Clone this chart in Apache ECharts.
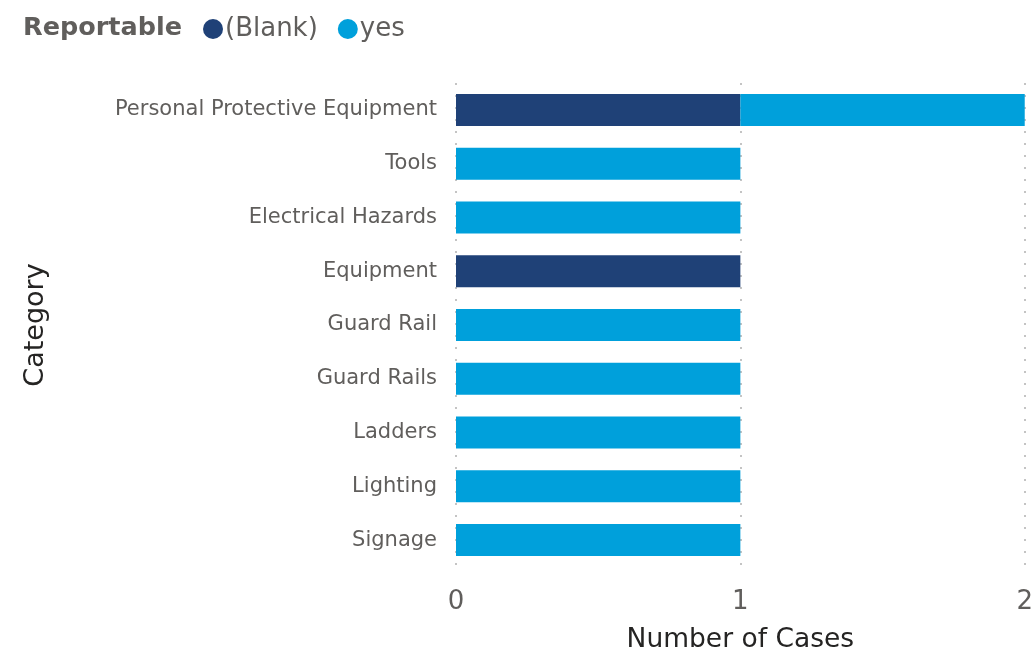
<!DOCTYPE html>
<html>
<head>
<meta charset="utf-8">
<script src="https://cdn.jsdelivr.net/npm/echarts@6/dist/echarts.min.js"></script>
<style>html,body{margin:0;padding:0;background:#fff}#c{width:1036px;height:660px}</style>
</head>
<body>
<div id="c"></div>
<script>
const categories = ["Personal Protective Equipment","Tools","Electrical Hazards","Equipment","Guard Rail","Guard Rails","Ladders","Lighting","Signage"];
const blankValues = [1,0,0,1,0,0,0,0,0];
const yesValues = [1,1,1,0,1,1,1,1,1];
const xTicks = [0,1,2];

const font = "DejaVu Sans, Verdana, sans-serif";
const chart = echarts.init(document.getElementById('c'));
chart.setOption({
  animation:false,
  title:{text:'Reportable',left:18,top:10,textStyle:{fontFamily:font,fontSize:25.5,fontWeight:'bold',color:'#605E5C'}},
  legend:{left:198,top:11,icon:'circle',itemWidth:20,itemHeight:20,itemGap:20,
    textStyle:{fontFamily:font,fontSize:26,color:'#605E5C',padding:[0,0,0,-3]},
    data:['(Blank)','yes']},
  grid:{left:456,right:9,top:83,bottom:93},
  xAxis:{type:'value',min:xTicks[0],max:xTicks[xTicks.length-1],interval:1,
    name:'Number of Cases',nameLocation:'middle',nameGap:60,
    nameTextStyle:{fontFamily:font,fontSize:26.5,color:'#252423'},
    axisLine:{show:false},axisTick:{show:false},
    axisLabel:{fontFamily:font,fontSize:26,color:'#605E5C',margin:22},
    splitLine:{show:true,lineStyle:{type:[2,10],color:'#c4c4c4',width:2}}},
  yAxis:{type:'category',data:categories,inverse:true,
    name:'Category',nameLocation:'middle',nameGap:407,nameRotate:90,
    nameTextStyle:{fontFamily:font,fontSize:27,color:'#252423'},
    axisLine:{show:false},axisTick:{show:false},
    axisLabel:{fontFamily:font,fontSize:21,color:'#605E5C',margin:19}},
  series:[
    {name:'(Blank)',type:'bar',stack:'t',data:blankValues,barWidth:32,itemStyle:{color:'#1F4177'}},
    {name:'yes',type:'bar',stack:'t',data:yesValues,barWidth:32,itemStyle:{color:'#00A0DB'}}
  ]
});
</script>
</body>
</html>
